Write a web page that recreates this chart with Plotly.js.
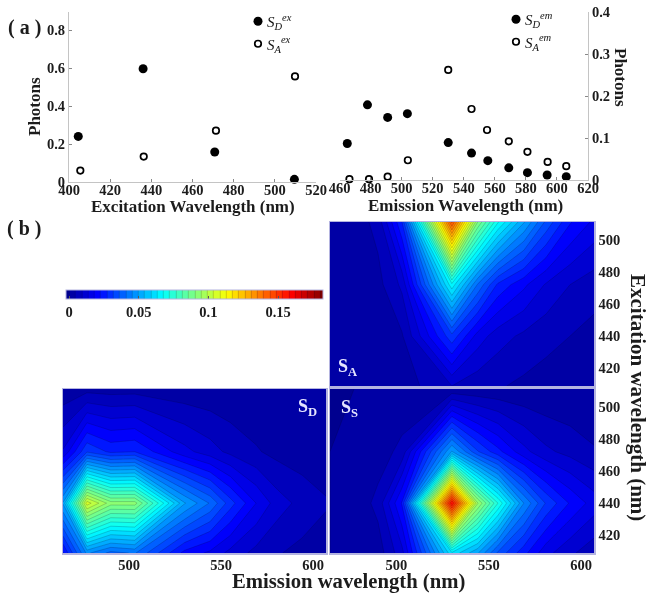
<!DOCTYPE html>
<html>
<head>
<meta charset="utf-8">
<script src="https://cdn.plot.ly/plotly-3.0.1.min.js"></script>
<style>
html,body{margin:0;padding:0;background:#fff;}
#chart{width:653px;height:600px;filter:blur(0.4px);}
.legendtext,.legend2text{transform:translateX(-11px);}
</style>
</head>
<body>
<div id="chart"></div>
<script>
// ---- panel (a), left
const exWavelengthD = [404.5, 436, 470.8, 509.5];
const sdEx = [0.24, 0.596, 0.158, 0.014];
const exWavelengthA = [405.5, 436.3, 471.4, 509.8];
const saEx = [0.06, 0.134, 0.27, 0.556];
// ---- panel (a), right
const emWavelengthD = [465, 478, 491, 503.7, 530, 545, 555.5, 569, 581, 593.7, 606];
const sdEm = [0.087, 0.179, 0.149, 0.158, 0.089, 0.064, 0.046, 0.029, 0.0175, 0.012, 0.008];
const emWavelengthA = [466.4, 479, 491, 504, 530, 545, 555, 569, 581, 594, 606];
const saEm = [0.002, 0.002, 0.008, 0.047, 0.262, 0.169, 0.119, 0.092, 0.067, 0.043, 0.033];
// ---- panel (b) grids
const emGrid = [464, 477, 490, 503, 530, 544, 555, 569, 581, 594, 607];
const exGrid = [409, 440, 472, 511];
const zSA = [
  [0, 0.0001, 0.0004, 0.002, 0.009, 0.006, 0.005, 0.0035, 0.0025, 0.0016, 0.0012],
  [0.0001, 0.0004, 0.001, 0.004, 0.03, 0.016, 0.011, 0.008, 0.006, 0.0045, 0.003],
  [0.0002, 0.001, 0.003, 0.01, 0.066, 0.04, 0.026, 0.019, 0.013, 0.009, 0.0065],
  [0.0003, 0.002, 0.006, 0.027, 0.145, 0.09, 0.068, 0.05, 0.035, 0.023, 0.017]
];
const zSD = [
  [0.022, 0.046, 0.039, 0.041, 0.021, 0.017, 0.012, 0.0075, 0.0048, 0.0032, 0.002],
  [0.05, 0.106, 0.092, 0.092, 0.05, 0.04, 0.029, 0.018, 0.011, 0.0075, 0.005],
  [0.014, 0.031, 0.026, 0.027, 0.015, 0.011, 0.0078, 0.005, 0.003, 0.002, 0.0013],
  [0.0012, 0.0028, 0.0024, 0.0025, 0.0013, 0.001, 0.0007, 0.0005, 0.0003, 0.0002, 0.0001]
];
const zSS = [
  [0, 0.0005, 0.002, 0.012, 0.062, 0.05, 0.035, 0.024, 0.015, 0.01, 0.006],
  [0, 0.001, 0.006, 0.023, 0.158, 0.095, 0.072, 0.045, 0.031, 0.022, 0.016],
  [0, 0.0003, 0.002, 0.006, 0.05, 0.032, 0.024, 0.015, 0.01, 0.0075, 0.005],
  [0, 0, 0.0001, 0.0003, 0.001, 0.0008, 0.0006, 0.0004, 0.0003, 0.0002, 0.0001]
];
const jetScale = [[0, '#00008f'], [0.125, '#0000ff'], [0.375, '#00ffff'], [0.625, '#ffff00'], [0.875, '#ff0000'], [1, '#800000']];
const barTicks = [0, 0.05, 0.1, 0.15];
const barLabels = ['0', '0.05', '0.1', '0.15'];

const W = 653, H = 600;
const SERIF = '"Liberation Serif", serif';
const INK = '#1c1c1c', FRAME = '#b4b4e0';
const xd = (a, b) => [a / W, b / W];
const yd = (top, bot) => [1 - bot / H, 1 - top / H];
const tickFont = {family: SERIF, size: 14.5, color: INK, weight: 700};
const filled = {size: 9, color: '#000'};
const hollow = {size: 6.5, color: '#fff', line: {color: '#000', width: 1.7}};

function scatterTrace(x, y, name, marker, xa, ya, legend) {
  return {type: 'scatter', mode: 'markers', x, y, name, marker, xaxis: xa, yaxis: ya, legend, cliponaxis: false};
}
function contourTrace(z, xa, ya) {
  return {type: 'contour', x: emGrid, y: exGrid, z, xaxis: xa, yaxis: ya, coloraxis: 'coloraxis',
    autocontour: false, contours: {start: 0, end: 0.18, size: 0.0045, coloring: 'fill'},
    line: {color: 'rgba(0,0,30,0.3)', width: 0.6, smoothing: 0}, hoverinfo: 'skip', showlegend: false};
}
const data = [
  scatterTrace(exWavelengthD, sdEx, '<i>S<sub>D</sub><sup>ex</sup></i>', filled, 'x', 'y', 'legend'),
  scatterTrace(exWavelengthA, saEx, '<i>S<sub>A</sub><sup>ex</sup></i>', hollow, 'x', 'y', 'legend'),
  scatterTrace(emWavelengthD, sdEm, '<i>S<sub>D</sub><sup>em</sup></i>', filled, 'x2', 'y2', 'legend2'),
  scatterTrace(emWavelengthA, saEm, '<i>S<sub>A</sub><sup>em</sup></i>', hollow, 'x2', 'y2', 'legend2'),
  contourTrace(zSA, 'x3', 'y3'),
  contourTrace(zSD, 'x4', 'y4'),
  contourTrace(zSS, 'x5', 'y5')
];
const lineAxis = {showgrid: false, zeroline: false, showline: true, linecolor: '#c4c4c4', linewidth: 1,
  ticks: 'inside', ticklen: 3, tickcolor: '#888', tickfont: tickFont};
const imgAxis = {showgrid: false, zeroline: false, showline: true, mirror: true, linecolor: FRAME, linewidth: 1.5,
  ticks: '', tickfont: tickFont};
const hide = {showticklabels: false};
function legendBox(x, y) {
  return {x: x / W, y: 1 - y / H, xanchor: 'left', yanchor: 'top', bgcolor: 'rgba(0,0,0,0)', borderwidth: 0,
    itemwidth: 30, tracegroupgap: 0, itemclick: false, itemdoubleclick: false,
    font: {family: SERIF, size: 15, color: '#111'}};
}
function note(text, x, y, size, color, angle) {
  return {text, x: x / W, y: 1 - y / H, xref: 'paper', yref: 'paper', showarrow: false, xanchor: 'center', yanchor: 'middle',
    textangle: angle || 0, font: {family: SERIF, size, color: color || INK, weight: 700}};
}
const layout = {
  width: W, height: H, margin: {l: 0, r: 0, t: 0, b: 0}, paper_bgcolor: '#fff', plot_bgcolor: '#fff',
  font: {family: SERIF},
  xaxis: {...lineAxis, domain: xd(69, 316), range: [400, 520], dtick: 20, anchor: 'y', ticklabelstandoff: -5},
  yaxis: {...lineAxis, domain: yd(12, 182), range: [0, 0.895], tickvals: [0, 0.2, 0.4, 0.6, 0.8], ticktext: ['0', '0.2', '0.4', '0.6', '0.8'], anchor: 'x'},
  xaxis2: {...lineAxis, domain: xd(339.5, 588), range: [460, 620], dtick: 20, anchor: 'y2', ticklabelstandoff: -5},
  yaxis2: {...lineAxis, domain: yd(12, 180), range: [0, 0.4], side: 'right', tickvals: [0, 0.1, 0.2, 0.3, 0.4], ticktext: ['0', '0.1', '0.2', '0.3', '0.4'], anchor: 'x2'},
  xaxis3: {...imgAxis, ...hide, domain: xd(330, 594), range: [464, 607], anchor: 'y3'},
  yaxis3: {...imgAxis, domain: yd(222, 386), range: [409, 511], side: 'right', tickvals: [420, 440, 460, 480, 500], anchor: 'x3'},
  xaxis4: {...imgAxis, domain: xd(63, 326), range: [464, 607], tickvals: [500, 550, 600], anchor: 'y4', ticklabelstandoff: -2},
  yaxis4: {...imgAxis, ...hide, domain: yd(389, 553), range: [409, 511], anchor: 'x4'},
  xaxis5: {...imgAxis, domain: xd(330, 594), range: [464, 607], tickvals: [500, 550, 600], anchor: 'y5', ticklabelstandoff: -2},
  yaxis5: {...imgAxis, domain: yd(389, 553), range: [409, 511], side: 'right', tickvals: [420, 440, 460, 480, 500], anchor: 'x5'},
  legend: legendBox(238, 5),
  legend2: legendBox(496, 3),
  coloraxis: {cmin: 0, cmax: 0.18, colorscale: jetScale, colorbar: {
    orientation: 'h', x: 66 / W, xanchor: 'left', y: 1 - 290 / H, yanchor: 'top',
    lenmode: 'pixels', len: 257, thicknessmode: 'pixels', thickness: 9, xpad: 0, ypad: 0,
    tickvals: barTicks, ticktext: barLabels, ticks: 'inside', ticklen: 3, tickcolor: '#555',
    tickfont: tickFont, outlinecolor: FRAME, outlinewidth: 1, borderwidth: 0}},
  annotations: [
    note('Excitation Wavelength (nm)', 193, 207, 17),
    note('Emission Wavelength (nm)', 465, 205, 17),
    note('Photons', 34, 107, 17, INK, -90),
    note('Photons', 620, 77, 17, INK, 90),
    note('( a )', 25, 28, 20),
    note('( b )', 24, 228, 20),
    note('Emission wavelength (nm)', 348, 581, 20.7),
    note('Excitation wavelength (nm)', 638, 397, 21, INK, 90),
    note('S<sub>A</sub>', 347, 367, 18, '#e4e4ff'),
    note('S<sub>D</sub>', 307, 407, 18, '#e4e4ff'),
    note('S<sub>S</sub>', 349, 408, 18, '#e4e4ff')
  ]
};
Plotly.newPlot('chart', data, layout, {displayModeBar: false, staticPlot: true});
</script>
</body>
</html>
